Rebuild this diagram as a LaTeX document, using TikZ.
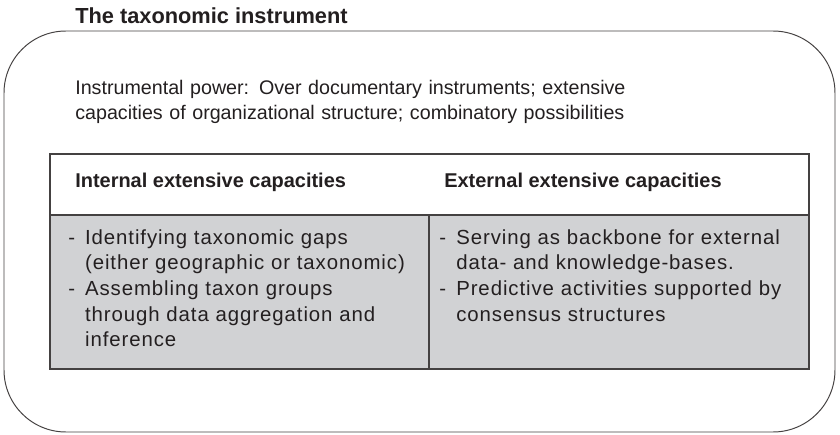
\documentclass[tikz,border=0pt]{standalone}
\usepackage{fontspec}
\setmainfont{Liberation Sans}
\newfontfamily\listfont{Liberation Sans}[LetterSpace=4.5]
\usepackage{tikz}
\definecolor{cellgray}{RGB}{209,210,212}
\definecolor{ink}{RGB}{35,31,32}
\newcommand{\dashmark}{\makebox[0.42cm][l]{-}}
\newcommand{\hang}{\hspace*{0.42cm}}
\tikzset{txt/.style={anchor=base west, inner sep=0pt, text=ink, font=\fontsize{14}{18}\selectfont},
    head/.style={txt, font=\fontsize{14.2}{18}\selectfont\bfseries},
    items/.style={txt, text width=9.2cm, align=left, font=\listfont\fontsize{14.5}{18.1}\selectfont},
    frame/.style={draw=ink!85, line width=0.9pt}}

\begin{document}
\begin{tikzpicture}
    \useasboundingbox (0,0) rectangle (21,10.875);

    \node (title) at (1.875cm, 10.275cm) [head, font=\fontsize{15.5}{18}\selectfont\bfseries] {The taxonomic instrument};
    \draw [frame, line width=0.7pt, rounded corners=1.55cm] (0.1,0.075) rectangle (20.875,10.1);

    \node (power) at (1.875cm, 8.5125cm) [txt, text width=18cm, align=left]
        {Instrumental power: Over documentary instruments; extensive\\
         capacities of organizational structure; combinatory possibilities};

    \draw [frame] (1.25,5.5) rectangle (20.225,7.025);
    \draw [frame, fill=cellgray] (1.25,1.65) rectangle (20.225,5.5);
    \draw [frame] (10.725,1.65) -- (10.725,5.5);

    \node (inth) at (1.875cm, 6.175cm) [head] {Internal extensive capacities};
    \node (exth) at (11.1cm, 6.175cm) [head] {External extensive capacities};

    \node (int1) at (1.7cm, 4.7625cm) [items]
        {\dashmark Identifying taxonomic gaps\\ \hang(either geographic or taxonomic)};
    \node (int2) at (1.7cm, 3.483cm) [items]
        {\dashmark Assembling taxon groups\\ \hang through data aggregation and\\ \hang inference};
    \node (ext1) at (10.98cm, 4.7625cm) [items]
        {\dashmark Serving as backbone for external\\ \hang data- and knowledge-bases.};
    \node (ext2) at (10.98cm, 3.483cm) [items]
        {\dashmark Predictive activities supported by\\ \hang consensus structures};
\end{tikzpicture}
\end{document}
